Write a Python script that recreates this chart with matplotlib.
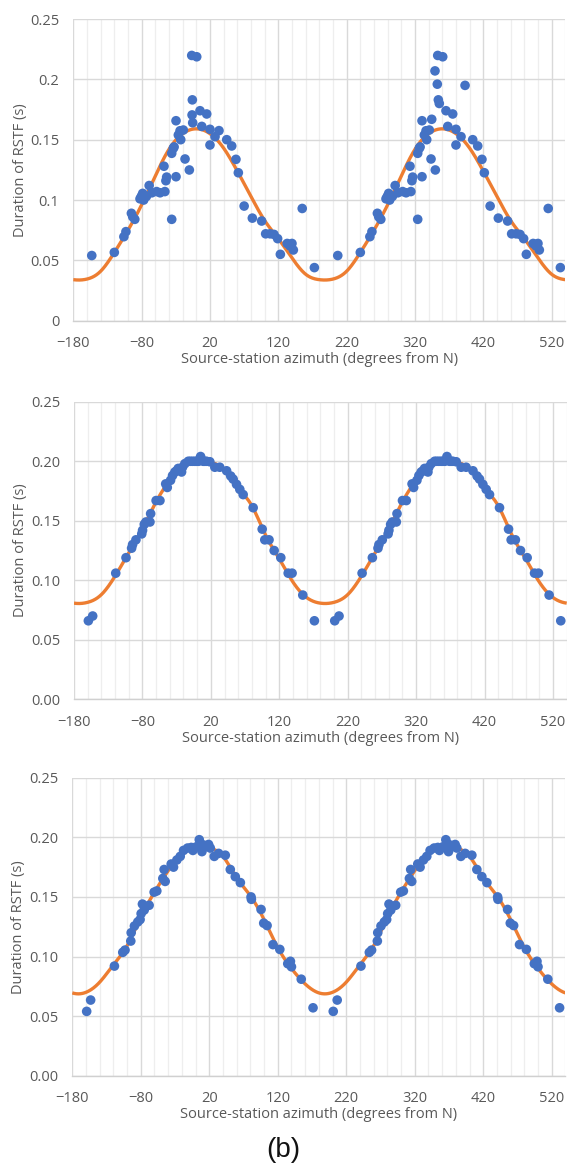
import numpy as np
import matplotlib
matplotlib.use("Agg")
import matplotlib.pyplot as plt
from matplotlib.ticker import MultipleLocator, FixedLocator, FuncFormatter

# ---------------- data ----------------
# Panel 1 (observed): base azimuths plotted at az and az+360
p1_az = [-153, -120, -106, -103, -95, -93, -90, -82.4, -80.5, -78.5, -77, -73, -69, -65,
         -58, -53, -47.3, -46, -43.4, -44.5, -36, -36, -33.7, -32.5, -29.7, -29.7, -26.3,
         -23.8, -22.8, -19, -16.5, -10.2, -6.7, 0.6, -5.8, 5.4, 15.2, 8, 20, 27.4, 20,
         44.5, 51.8, 58, 61.5, 70, 82, 95.6, 101.5, 108, 113.7, 119, 123, 133, 137, 140,
         142, 155, 172.8]
p1_dur = [0.054, 0.0566, 0.0696, 0.0738, 0.089, 0.086, 0.084, 0.101, 0.103, 0.1055, 0.100,
          0.103, 0.112, 0.106, 0.107, 0.106, 0.128, 0.107, 0.119, 0.116, 0.084, 0.1387,
          0.1428, 0.144, 0.1193, 0.1657, 0.1539, 0.1574, 0.150, 0.158, 0.134, 0.1249,
          0.2198, 0.2187, 0.183, 0.174, 0.1713, 0.161, 0.1586, 0.1525, 0.1456, 0.150,
          0.1448, 0.1337, 0.1226, 0.095, 0.085, 0.0826, 0.072, 0.072, 0.0715, 0.068, 0.055,
          0.064, 0.062, 0.064, 0.0586, 0.093, 0.044]
# points shown only once
p1_single_az = [-6.2, -5.3, 33.2, 349.3, 352.7, 355.6, 344.5, 393.3]
p1_single_dur = [0.1705, 0.164, 0.1575, 0.207, 0.196, 0.180, 0.1669, 0.195]

# Panel 2 (model A)
p2_az = [-159, -152.7, -119, -104, -95.8, -94.4, -89.5, -81, -79.8, -77.3, -74.9, -69, -68,
         -60, -54.4, -46, -43.7, -38.9, -36, -32.6, -30, -27.7, -25, -22.8, -21.4, -18,
         -13, -10, -6.8, -3.5, -1, 2, 5, 8.8, 11, 13.7, 18.5, 25.8, 33, 43, 49, 52.6, 57.5,
         62.3, 67.2, 81.8, 95, 98.8, 105, 112.5, 122.2, 133, 138.7, 154.3, 171.3]
p2_dur = [0.066, 0.070, 0.106, 0.119, 0.127, 0.130, 0.134, 0.139, 0.142, 0.147, 0.149, 0.149,
          0.156, 0.167, 0.167, 0.181, 0.178, 0.184, 0.188, 0.191, 0.192, 0.194, 0.193, 0.191,
          0.195, 0.198, 0.200, 0.200, 0.200, 0.200, 0.200, 0.200, 0.204, 0.200, 0.200, 0.200,
          0.1996, 0.195, 0.195, 0.192, 0.1876, 0.185, 0.1806, 0.1764, 0.172, 0.161, 0.143,
          0.134, 0.134, 0.125, 0.119, 0.106, 0.106, 0.0876, 0.066]

# Panel 3 (model B)
p3_az = [-159, -153.2, -118.5, -106.3, -103, -94.6, -94, -89.3, -84.4, -81, -79.5, -77.6,
         -75, -67.8, -60.5, -56.6, -47.8, -45.9, -44.4, -35.6, -32.2, -27.3, -22.4, -17.6,
         -11.7, -6.3, -3.9, 1, 5.4, 7, 9.3, 11.7, 14, 19, 21.5, 27.3, 33.7, 43.4, 50.7, 58,
         65.4, 81, 81.5, 95.6, 99.5, 104.4, 113, 123, 134.6, 138.5, 140, 154.3, 171.5]
p3_dur = [0.054, 0.0635, 0.092, 0.1035, 0.1054, 0.113, 0.120, 0.1256, 0.129, 0.131, 0.136,
          0.144, 0.139, 0.143, 0.154, 0.155, 0.1655, 0.173, 0.163, 0.1776, 0.175, 0.181,
          0.184, 0.189, 0.191, 0.1915, 0.189, 0.192, 0.198, 0.195, 0.188, 0.1935, 0.192,
          0.194, 0.191, 0.184, 0.1865, 0.185, 0.173, 0.167, 0.162, 0.150, 0.148, 0.1395,
          0.128, 0.126, 0.110, 0.106, 0.094, 0.096, 0.0914, 0.081, 0.057]

# fitted curves, one period read every 20 degrees from -180 to 160
curve_az = list(range(-180, 180, 20))
p1_curve = [0.034, 0.0345, 0.041, 0.0565, 0.075, 0.096, 0.120, 0.142, 0.155, 0.159,
            0.155, 0.143, 0.124, 0.103, 0.083, 0.068, 0.052, 0.0385]
p2_curve = [0.0808, 0.0815, 0.088, 0.1035, 0.123, 0.143, 0.166, 0.184, 0.196, 0.200,
            0.199, 0.193, 0.178, 0.1625, 0.138, 0.118, 0.0985, 0.0855]
p3_curve = [0.0695, 0.070, 0.0785, 0.093, 0.109, 0.133, 0.154, 0.172, 0.186, 0.191,
            0.191, 0.184, 0.166, 0.151, 0.131, 0.1075, 0.090, 0.077]

x_ticks = [-180, -80, 20, 120, 220, 320, 420, 520]
XMIN, XMAX = -180, 540

DOT = "#4472C4"
LINE = "#ED7D31"
TXT = "#595959"
FONT = "Open Sans"


def smooth_periodic(az, val, xmin, xmax, period=360.0, n=20):
    """Periodic cubic spline through the read curve samples (equal spacing)."""
    az = np.asarray(az, float)
    y = np.asarray(val, float)
    N = len(y)
    h = period / N
    # second derivatives M from cyclic system: M[i-1] + 4 M[i] + M[i+1] = 6/h^2 (y[i-1]-2y[i]+y[i+1])
    A = np.zeros((N, N))
    for i in range(N):
        A[i, i] = 4.0
        A[i, (i - 1) % N] = 1.0
        A[i, (i + 1) % N] = 1.0
    rhs = 6.0 / h ** 2 * (np.roll(y, 1) - 2 * y + np.roll(y, -1))
    M = np.linalg.solve(A, rhs)
    xs = np.linspace(xmin, xmax, 1441)
    u = (xs - az[0]) / h
    k = np.floor(u).astype(int)
    t = u - k
    i0 = k % N
    i1 = (k + 1) % N
    a = 1 - t
    ys = (a * y[i0] + t * y[i1]
          + ((a ** 3 - a) * M[i0] + (t ** 3 - t) * M[i1]) * h ** 2 / 6.0)
    return xs, ys


fig = plt.figure(figsize=(5.67, 11.73), dpi=100)
rects = [[0.1293, 0.7266, 0.8677, 0.2572],
         [0.1305, 0.4038, 0.8690, 0.2537],
         [0.1275, 0.0829, 0.8697, 0.2541]]
panels = [
    (p1_az, p1_dur, p1_single_az, p1_single_dur, p1_curve, lambda v, p: ("%g" % round(v, 2))),
    (p2_az, p2_dur, [], [], p2_curve, lambda v, p: "%.2f" % v),
    (p3_az, p3_dur, [], [], p3_curve, lambda v, p: "%.2f" % v),
]

for rect, (az, dur, saz, sdur, curve, fmt) in zip(rects, panels):
    ax = fig.add_axes(rect)
    az_a = np.asarray(az)
    dur_a = np.asarray(dur)
    xs = np.concatenate([az_a, az_a + 360, np.asarray(saz, float)])
    ys = np.concatenate([dur_a, dur_a, np.asarray(sdur, float)])
    m = (xs >= XMIN) & (xs <= XMAX)
    cx, cy = smooth_periodic(curve_az, curve, XMIN, XMAX)
    ax.plot(cx, cy, color=LINE, lw=2.4, solid_capstyle="butt", zorder=3)
    ax.scatter(xs[m], ys[m], s=48, color=DOT, edgecolors="none", zorder=4)

    ax.set_xlim(XMIN, XMAX)
    ax.set_ylim(0, 0.25)
    ax.xaxis.set_major_locator(FixedLocator(x_ticks))
    ax.xaxis.set_minor_locator(MultipleLocator(20))
    ax.yaxis.set_major_locator(MultipleLocator(0.05))
    ax.yaxis.set_major_formatter(FuncFormatter(fmt))
    ax.grid(which="major", axis="both", color="#D9D9D9", lw=1.0, zorder=0)
    ax.grid(which="minor", axis="x", color="#EEEEEE", lw=0.9, zorder=0)
    ax.set_axisbelow(True)
    for s in ["top", "right", "left"]:
        ax.spines[s].set_visible(False)
    ax.spines["bottom"].set_color("#D0D0D0")
    ax.spines["bottom"].set_linewidth(1.0)
    ax.tick_params(which="both", length=0)
    ax.tick_params(axis="x", pad=11, labelsize=10.5, labelcolor=TXT)
    ax.tick_params(axis="y", pad=10, labelsize=10.5, labelcolor=TXT)
    for lab in ax.get_xticklabels() + ax.get_yticklabels():
        lab.set_fontfamily(FONT)
    ax.set_xlabel("Source-station azimuth (degrees from N)", fontsize=10.5, color=TXT,
                  fontfamily=FONT)
    ax.xaxis.set_label_coords(0.5, -0.105)
    ax.set_ylabel("Duration of RSTF (s)", fontsize=10.5, color=TXT, fontfamily=FONT)
    ax.yaxis.set_label_coords(-0.093, 0.5)

fig.text(283 / 567, 1 - 1150 / 1173, "(b)", fontsize=20, ha="center", va="center",
         fontfamily="Liberation Sans", color="#111111")

fig.savefig("out.png", dpi=100, facecolor="white")
